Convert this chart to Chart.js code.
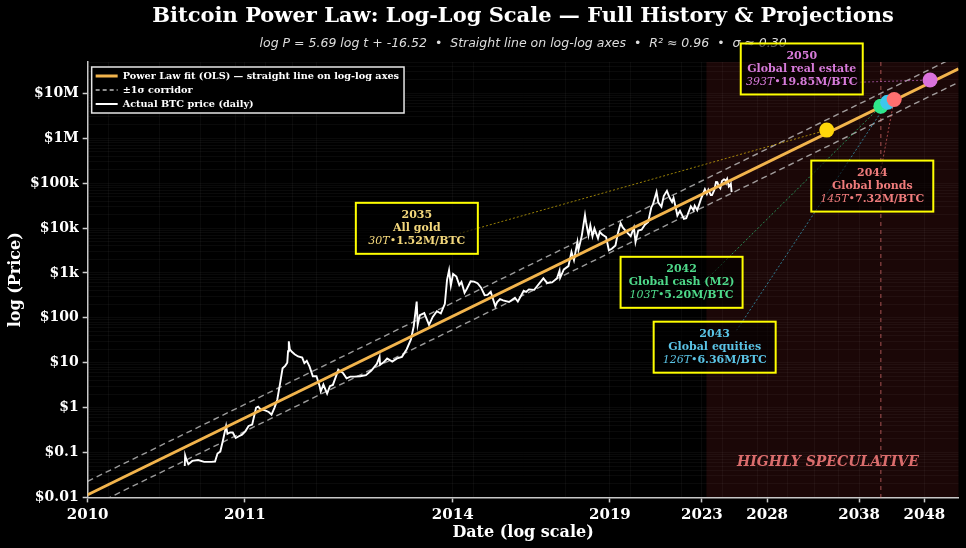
<!DOCTYPE html>
<html>
<head>
<meta charset="utf-8">
<title>Bitcoin Power Law</title>
<script src="https://cdn.jsdelivr.net/npm/chart.js@4.4.1/dist/chart.umd.min.js"></script>
<style>
  html, body { margin: 0; padding: 0; background: #000; }
  #wrap { width: 966px; height: 548px; position: relative; }
</style>
</head>
<body>
<div id="wrap"><canvas id="plChart"></canvas></div>
<script>
// fit parameters, as printed in the subtitle
const fitSlope = 5.69;
const fitIntercept = -16.52;
const fitSigma = 0.30;
const genesis = '2009-01-03';

// actual BTC price
const btcDates = [
  '2010-07-17','2010-07-18','2010-07-21','2010-07-26','2010-08-05','2010-08-20','2010-09-05','2010-09-25',
  '2010-10-05','2010-10-12','2010-10-20','2010-10-28','2010-11-06','2010-11-10','2010-11-18','2010-11-26',
  '2010-12-05','2010-12-15','2010-12-25','2011-01-05','2011-01-15','2011-01-27','2011-02-09','2011-02-16',
  '2011-02-25','2011-03-10','2011-03-25','2011-04-04','2011-04-15','2011-04-25','2011-05-05','2011-05-15',
  '2011-05-25','2011-06-02','2011-06-05','2011-06-08','2011-06-12','2011-06-20','2011-07-01','2011-07-15',
  '2011-08-01','2011-08-10','2011-08-20','2011-09-01','2011-09-15','2011-10-01','2011-10-15','2011-10-20',
  '2011-11-01','2011-11-18','2011-12-01','2011-12-15','2012-01-01','2012-01-10','2012-01-20','2012-02-01',
  '2012-02-20','2012-03-10','2012-04-01','2012-05-01','2012-06-01','2012-07-01','2012-08-01','2012-08-17',
  '2012-08-20','2012-09-10','2012-10-01','2012-11-01','2012-12-01','2013-01-01','2013-02-01','2013-03-01',
  '2013-03-20','2013-04-09','2013-04-16','2013-05-01','2013-06-01','2013-07-05','2013-08-01','2013-09-01',
  '2013-10-01','2013-11-01','2013-11-18','2013-12-04','2013-12-18','2014-01-05','2014-02-01','2014-02-25',
  '2014-03-15','2014-04-10','2014-05-01','2014-06-01','2014-07-01','2014-08-01','2014-09-01','2014-10-05',
  '2014-11-01','2014-12-01','2015-01-14','2015-02-01','2015-03-01','2015-04-01','2015-06-01','2015-08-01',
  '2015-09-01','2015-11-04','2015-12-01','2016-01-01','2016-03-01','2016-06-17','2016-08-01','2016-10-01',
  '2016-12-01','2017-01-04','2017-01-12','2017-03-01','2017-05-01','2017-06-11','2017-07-15','2017-09-01',
  '2017-09-15','2017-11-01','2017-12-17','2018-01-01','2018-02-06','2018-03-05','2018-04-06','2018-05-05',
  '2018-06-28','2018-07-25','2018-09-01','2018-11-01','2018-12-15','2019-02-01','2019-04-01','2019-05-15',
  '2019-06-26','2019-08-01','2019-10-01','2019-12-17','2020-02-12','2020-03-12','2020-05-01','2020-07-01',
  '2020-09-01','2020-11-01','2021-01-01','2021-02-01','2021-04-13','2021-05-19','2021-07-20','2021-09-05',
  '2021-11-09','2022-01-01','2022-02-24','2022-03-28','2022-05-12','2022-06-18','2022-08-14','2022-11-09',
  '2022-12-31','2023-04-14','2023-06-15','2023-07-13','2023-09-11','2023-12-08','2024-03-13','2024-05-01',
  '2024-06-06','2024-08-05','2024-09-06','2024-11-01','2024-12-17','2025-01-20','2025-03-01','2025-04-08',
  '2025-05-22','2025-07-14','2025-08-14','2025-09-01','2025-10-06','2025-11-21','2025-12-15','2026-01-14',
  '2026-02-05'
];
const btcPrices = [
  0.05, 0.086, 0.07, 0.055, 0.065, 0.068, 0.062, 0.062,
  0.063, 0.095, 0.105, 0.19, 0.39, 0.26, 0.28, 0.28,
  0.21, 0.23, 0.25, 0.3, 0.39, 0.42, 1.0, 1.05,
  0.9, 0.88, 0.8, 0.7, 1.0, 1.5, 3.3, 7.5,
  8.5, 10, 18, 30, 20, 17.5, 15.5, 13.8,
  13.0, 9.8, 11.0, 8.2, 5.0, 5.0, 3.0, 2.3,
  3.25, 2.05, 3.0, 3.2, 5.3, 7.0, 6.4, 6.0,
  4.5, 4.9, 4.9, 5.0, 5.3, 6.7, 9.4, 13.5,
  9.0, 10.2, 12.4, 10.6, 12.5, 13.5, 20, 33,
  65, 230, 70, 115, 128, 70, 105, 140,
  125, 205, 700, 1150, 520, 950, 830, 535,
  630, 360, 450, 650, 640, 590, 475, 320,
  325, 380, 180, 225, 260, 245, 225, 280,
  230, 400, 380, 430, 420, 760, 600, 615,
  750, 1130, 780, 1200, 1420, 2950, 1920, 4900,
  3250, 6700, 19400, 13500, 6900, 11500, 6600, 9800,
  5900, 8200, 7200, 6300, 3200, 3450, 4100, 8000,
  12900, 10300, 8300, 6600, 10300, 4900, 8800, 9200,
  11900, 13700, 29000, 33500, 63500, 37000, 29800, 51700,
  67500, 47700, 38000, 47100, 29000, 19000, 24300, 16000,
  16500, 30500, 25000, 31400, 25100, 44000, 73000, 57500,
  71000, 54000, 54000, 69500, 106000, 105000, 84000, 76300,
  111500, 122000, 118000, 109000, 124700, 84000, 88000, 97000,
  63000
];

// projections: year the fit reaches each asset class
const projYears = [2035, 2042, 2043, 2044, 2050];
const projNames = ['All gold', 'Global cash (M2)', 'Global equities', 'Global bonds', 'Global real estate'];
const projCaps = ['30T', '103T', '126T', '145T', '393T'];
const projPrices = [1.52e6, 5.20e6, 6.36e6, 7.32e6, 19.85e6];

// axes: x ticks sit at whole 365-day years after genesis
const xTickYears = [1, 2, 5, 10, 15, 20, 30, 40];
const xTickLabels = ['2010', '2011', '2014', '2019', '2023', '2028', '2038', '2048'];
const yTickValues = [0.01, 0.1, 1, 10, 100, 1e3, 1e4, 1e5, 1e6, 1e7];
const yTickLabels = ['$0.01', '$0.1', '$1', '$10', '$100', '$1k', '$10k', '$100k', '$1M', '$10M'];
const speculativeFrom = '2024-04-20';
const markerDate = '2042-01-01';

const titleText = 'Bitcoin Power Law: Log-Log Scale \u2014 Full History & Projections';
const subtitleText = 'log P = 5.69 log t + -16.52  \u2022  Straight line on log-log axes  \u2022  R\u00b2 \u2248 0.96  \u2022  \u03c3 \u2248 0.30';

// look of the projection labels
const dotColors = ['#FFD60A', '#2EE88A', '#3CC8EC', '#FF6F6F', '#DA72DC'];
const textColors = ['#F3D77C', '#4ED98A', '#5BC4E6', '#F07C7C', '#D77BDA'];
const boxCenters = [[0.378, 0.382], [0.682, 0.506], [0.720, 0.655], [0.901, 0.285], [0.820, 0.016]];
const lineEnds = [[43, 5], [21, 1], [22, -17], [9, -18], [1, 15]];

const SERIF = "'DejaVu Serif', serif";
const GOLD = '#F2B44C';
const CORRIDOR = 'rgba(205,205,205,0.75)';

const legendItems = [
  { text: 'Power Law fit (OLS) \u2014 straight line on log-log axes', color: GOLD, width: 3, dash: [] },
  { text: '\u00b11\u03c3 corridor', color: '#bdbdbd', width: 1.5, dash: [4, 3] },
  { text: 'Actual BTC price (daily)', color: '#ffffff', width: 2, dash: [] }
];

function dayNum(s) {
  return (Date.parse(s + 'T00:00:00Z') - Date.parse(genesis + 'T00:00:00Z')) / 864e5;
}

const xMin = 365;
const xMax = 365 * 46.5;
const fitAt = d => Math.pow(10, fitSlope * Math.log10(d) + fitIntercept);
const fitLine = [xMin, xMax].map(d => ({ x: d, y: fitAt(d) }));
const upper = fitLine.map(p => ({ x: p.x, y: p.y * Math.pow(10, fitSigma) }));
const lower = fitLine.map(p => ({ x: p.x, y: p.y / Math.pow(10, fitSigma) }));
const btc = btcDates.map((d, i) => ({ x: dayNum(d), y: btcPrices[i] }));
const proj = projYears.map((yr, i) => ({ x: dayNum(yr + '-01-01'), y: projPrices[i] }));

// grid ticks: labelled ones plus log minors
const xMinor = [400, 500, 600, 700, 800, 900, 1000, 2000, 3000, 4000, 5000, 6000, 7000, 8000, 9000, 10000];
const xTicks = xTickYears.map((n, i) => ({ value: n * 365, lbl: xTickLabels[i] }))
  .concat(xMinor.map(v => ({ value: v, lbl: '' })))
  .sort((a, b) => a.value - b.value);
const yTicks = [];
yTickValues.forEach((v, i) => {
  yTicks.push({ value: v, lbl: yTickLabels[i] });
  for (let m = 2; m <= 9; m++) if (v * m <= 5e7) yTicks.push({ value: v * m, lbl: '' });
});

const gridColor = 'rgba(255,255,255,0.04)';
const tickMark = c => (c.tick && c.tick.lbl ? '#cfcfcf' : 'rgba(0,0,0,0)');

const decor = {
  id: 'decor',
  beforeDraw(chart) {
    const { ctx, chartArea: a, scales: { x } } = chart;
    ctx.save();
    ctx.fillStyle = '#000';
    ctx.fillRect(0, 0, chart.width, chart.height);
    const xs = x.getPixelForValue(dayNum(speculativeFrom));
    ctx.fillStyle = 'rgba(180,45,45,0.15)';
    ctx.fillRect(xs, a.top, a.right - xs, a.bottom - a.top);
    ctx.restore();
  },
  beforeDatasetsDraw(chart) {
    const { ctx, chartArea: a, scales: { x } } = chart;
    const cx = (a.left + a.right) / 2;
    ctx.save();
    // title + subtitle, centred over the axes
    ctx.textAlign = 'center';
    ctx.textBaseline = 'middle';
    ctx.fillStyle = '#ffffff';
    ctx.font = 'bold 21px ' + SERIF;
    ctx.fillText(titleText, cx, 17);
    ctx.fillStyle = '#dddddd';
    ctx.font = "italic 12.5px 'DejaVu Sans', sans-serif";
    ctx.fillText(subtitleText, cx, 44);

    // 2042 marker and speculative zone label
    const xm = x.getPixelForValue(dayNum(markerDate));
    ctx.strokeStyle = 'rgba(240,120,120,0.55)';
    ctx.lineWidth = 1.2;
    ctx.setLineDash([4, 4]);
    ctx.beginPath();
    ctx.moveTo(xm, a.top);
    ctx.lineTo(xm, a.bottom);
    ctx.stroke();
    ctx.setLineDash([]);
    ctx.font = 'italic bold 14px ' + SERIF;
    ctx.fillStyle = 'rgba(240,120,120,0.9)';
    ctx.fillText('HIGHLY SPECULATIVE', a.left + 0.85 * (a.right - a.left), a.top + 0.92 * (a.bottom - a.top));

    // legend box
    ctx.font = 'bold 9.7px ' + SERIF;
    const tw = Math.max(...legendItems.map(it => ctx.measureText(it.text).width));
    const lx = a.left + 4, ly = a.top + 5, lw = tw + 36, lh = 46;
    ctx.fillStyle = '#000';
    ctx.fillRect(lx, ly, lw, lh);
    ctx.strokeStyle = '#e6e6e6';
    ctx.lineWidth = 1.5;
    ctx.strokeRect(lx, ly, lw, lh);
    ctx.textAlign = 'left';
    legendItems.forEach((it, i) => {
      const yy = ly + 9 + i * 14;
      ctx.strokeStyle = it.color;
      ctx.lineWidth = it.width;
      ctx.setLineDash(it.dash);
      ctx.beginPath();
      ctx.moveTo(lx + 4, yy);
      ctx.lineTo(lx + 26, yy);
      ctx.stroke();
      ctx.setLineDash([]);
      ctx.fillStyle = '#ffffff';
      ctx.fillText(it.text, lx + 31, yy);
    });
    ctx.restore();
  },
  afterDatasetsDraw(chart) {
    const { ctx, chartArea: a, scales: { x, y } } = chart;
    const w = a.right - a.left, h = a.bottom - a.top;
    const bw = 122, bh = 51;
    ctx.save();
    // connectors
    proj.forEach((p, i) => {
      const cx = a.left + boxCenters[i][0] * w, cy = a.top + boxCenters[i][1] * h;
      ctx.strokeStyle = dotColors[i];
      ctx.globalAlpha = 0.6;
      ctx.lineWidth = 1;
      ctx.setLineDash([2, 2]);
      ctx.beginPath();
      ctx.moveTo(x.getPixelForValue(p.x), y.getPixelForValue(p.y));
      ctx.lineTo(cx + lineEnds[i][0], cy + lineEnds[i][1]);
      ctx.stroke();
    });
    ctx.globalAlpha = 1;
    ctx.setLineDash([]);
    // boxes
    proj.forEach((p, i) => {
      const cx = a.left + boxCenters[i][0] * w, cy = a.top + boxCenters[i][1] * h;
      ctx.fillStyle = 'rgba(0,0,0,0.6)';
      ctx.fillRect(cx - bw / 2, cy - bh / 2, bw, bh);
      ctx.strokeStyle = '#FFFF00';
      ctx.lineWidth = 2;
      ctx.strokeRect(cx - bw / 2, cy - bh / 2, bw, bh);
      ctx.fillStyle = textColors[i];
      ctx.textAlign = 'center';
      ctx.textBaseline = 'middle';
      ctx.font = 'bold 11px ' + SERIF;
      ctx.fillText(String(projYears[i]), cx, cy - 13);
      ctx.fillText(projNames[i], cx, cy);
      const capTxt = projCaps[i] + '\u2022';
      const valTxt = (projPrices[i] / 1e6).toFixed(2) + 'M/BTC';
      ctx.font = 'italic 11px ' + SERIF;
      const w1 = ctx.measureText(capTxt).width;
      ctx.font = 'bold 11px ' + SERIF;
      const w2 = ctx.measureText(valTxt).width;
      const x0 = cx - (w1 + w2) / 2;
      ctx.textAlign = 'left';
      ctx.font = 'italic 11px ' + SERIF;
      ctx.fillText(capTxt, x0, cy + 13);
      ctx.font = 'bold 11px ' + SERIF;
      ctx.fillText(valTxt, x0 + w1, cy + 13);
    });
    ctx.restore();
  }
};

new Chart(document.getElementById('plChart'), {
  type: 'line',
  data: {
    datasets: [
      { label: 'Projections', data: proj, showLine: false, pointRadius: 7.5, pointHoverRadius: 7.5,
        pointBackgroundColor: dotColors, pointBorderWidth: 0, order: 0 },
      { label: 'Power Law fit (OLS)', data: fitLine, borderColor: GOLD, borderWidth: 3, pointRadius: 0, order: 1 },
      { label: 'Actual BTC price (daily)', data: btc, borderColor: '#ffffff', borderWidth: 1.9, pointRadius: 0, order: 2 },
      { label: '+1σ', data: upper, borderColor: CORRIDOR, borderDash: [6, 4], borderWidth: 1.4, pointRadius: 0, order: 3 },
      { label: '-1σ', data: lower, borderColor: CORRIDOR, borderDash: [6, 4], borderWidth: 1.4, pointRadius: 0, order: 3 }
    ]
  },
  options: {
    responsive: true,
    maintainAspectRatio: false,
    animation: false,
    events: [],
    elements: { line: { tension: 0 } },
    layout: { padding: { left: 8, right: 7, top: 62, bottom: 6 } },
    scales: {
      x: {
        type: 'logarithmic', min: xMin, max: xMax,
        afterBuildTicks: ax => { ax.ticks = xTicks.map(t => ({ ...t })); },
        ticks: {
          autoSkip: false, maxRotation: 0, color: '#fff', padding: 5.5,
          font: { family: SERIF, weight: 'bold', size: 15, lineHeight: 1.0 },
          callback: (v, i, ticks) => ticks[i].lbl
        },
        grid: { color: gridColor, lineWidth: 1, drawTicks: true, tickLength: 5, tickColor: tickMark, tickWidth: 1.5 },
        border: { display: true, color: '#c8c8c8', width: 1.5 },
        title: { display: true, text: 'Date (log scale)', color: '#fff',
          font: { family: SERIF, weight: 'bold', size: 16, lineHeight: 1.1 }, padding: { top: -4, bottom: 0 } }
      },
      y: {
        type: 'logarithmic', min: 0.01, max: 5e7,
        afterBuildTicks: ax => { ax.ticks = yTicks.map(t => ({ ...t })); },
        ticks: {
          autoSkip: false, color: '#fff', padding: 4,
          font: { family: SERIF, weight: 'bold', size: 14 },
          callback: (v, i, ticks) => ticks[i].lbl
        },
        grid: { color: gridColor, lineWidth: 1, drawTicks: true, tickLength: 5, tickColor: tickMark, tickWidth: 1.5 },
        border: { display: true, color: '#c8c8c8', width: 1.5 },
        title: { display: true, text: 'log (Price)', color: '#fff',
          font: { family: SERIF, weight: 'bold', size: 16, lineHeight: 1.0 }, padding: { top: 0, bottom: 2 } }
      }
    },
    plugins: {
      legend: { display: false },
      tooltip: { enabled: false }
    }
  },
  plugins: [decor]
});
</script>
</body>
</html>
